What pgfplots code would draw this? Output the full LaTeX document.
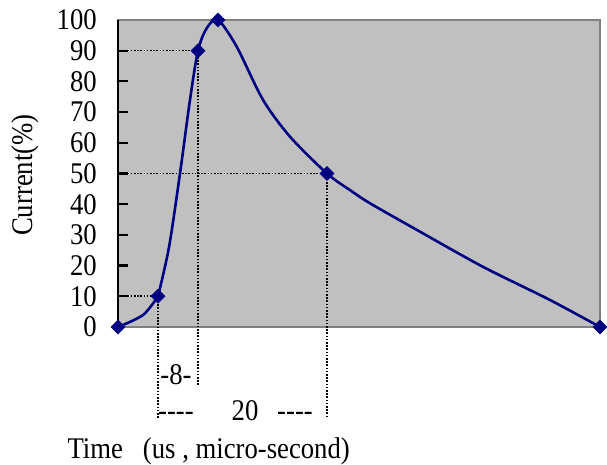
\documentclass[border=0pt]{standalone}
\usepackage{fontspec}
\setmainfont[FakeStretch=0.89]{Liberation Serif}
\usepackage{pgfplots}
\pgfplotsset{compat=1.18}
\definecolor{navyline}{RGB}{0,0,128}
\definecolor{plotbg}{RGB}{192,192,192}
\definecolor{frame}{RGB}{128,128,128}
\newcommand{\dashes}{-\kern0pt-\kern0pt-\kern0pt-}
\begin{document}
\begin{tikzpicture}[font=\fontsize{30}{32}\selectfont]
% page frame: 1pt per unit around the 482 x 307 plot area
\useasboundingbox (-118pt,-138pt) rectangle (489pt,327pt);
\begin{axis}[
  scale only axis,
  width=482pt, height=307pt,
  xmin=0, xmax=482, ymin=0, ymax=100,
  clip=false,
  axis background/.style={fill=plotbg},
  axis line style={frame, line width=2pt},
  xtick=\empty,
  ytick={0,10,...,100},
  ytick pos=left,
  tick align=inside,
  major tick length=10pt,
  tick style={black, line width=2.2pt},
  /pgf/number format/assume math mode=true,
  yticklabel style={anchor=east, inner sep=0pt, xshift=-21pt},
]
% reference lines for the 10 %, 90 % and 50 % levels
\addplot[black, line width=1.6pt, dash pattern=on 1.6pt off 1.6pt]
  coordinates {(0,10) (40,10) (40,-29.6)};
\addplot[black, line width=1.6pt, dash pattern=on 1.6pt off 1.6pt]
  coordinates {(0,90) (80,90) (80,-18.9)};
\addplot[black, line width=1.6pt, dash pattern=on 1.6pt off 1.6pt]
  coordinates {(0,50) (209,50) (209,-29.6)};
% impulse waveform
\addplot[navyline, line width=2.6pt, smooth] coordinates {
  (0,0) (25,3.9) (40,10)
};
\addplot[navyline, line width=2.6pt, smooth] coordinates {
  (40,10) (51,26) (62,50) (72,74) (80,90) (88.7,97.3) (100,100)
  (118.7,91.3) (145,74) (172,62) (209,50) (232,44.6) (252,40.3)
  (299,31.6) (365,19.6) (432,8.8) (482,0)
};
\addplot[only marks, mark=square*, mark size=5pt,
  mark options={rotate=45, fill=navyline, draw=navyline}]
  coordinates {(0,0) (40,10) (80,90) (100,100) (209,50) (482,0)};
\draw[black, line width=2.2pt] (axis cs:0,0) -- (axis cs:0,100);
% axis titles and time annotations
\node[rotate=90] at (axis cs:-93,49.5) {Current(\%)};
\node[anchor=base] at (axis cs:58,-18.6) {-8-};
\node[anchor=base] at (axis cs:58,-30.6) {\dashes};
\node[anchor=base] at (axis cs:127,-30.6) {20};
\node[anchor=base] at (axis cs:177,-30.6) {\dashes};
\node[anchor=base west] at (axis cs:-54,-42.7) {Time\ \ \ (us , micro-second)};
\end{axis}
\end{tikzpicture}
\end{document}
